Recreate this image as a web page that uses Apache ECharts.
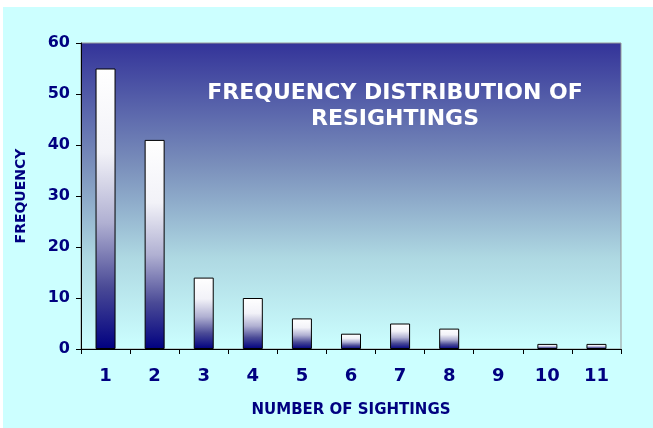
<!DOCTYPE html>
<html><head><meta charset="utf-8">
<script src="https://cdn.jsdelivr.net/npm/echarts@6/dist/echarts.min.js"></script>
<style>html,body{margin:0;padding:0;background:#fff;}#c{width:653px;height:428px;}</style>
</head><body><div id="c"></div>
<script>
var categories = ['1','2','3','4','5','6','7','8','9','10','11'];
var frequency = [55, 41, 14, 10, 6, 3, 5, 4, 0, 1, 1];
var yTicks = [0, 10, 20, 30, 40, 50, 60];
var titleLines = ['FREQUENCY DISTRIBUTION OF', 'RESIGHTINGS'];

var navy = '#000080';
var font = 'DejaVu Sans';
var barData = frequency.map(function (v) {
  return v === 0 ? {value: v, itemStyle: {borderWidth: 0, opacity: 0}} : v;
});
var chart = echarts.init(document.getElementById('c'), null, {renderer: 'canvas'});
chart.setOption({
  backgroundColor: '#ffffff',
  animation: false,
  graphic: [{
    type: 'rect', z: -10, silent: true,
    shape: {x: 3, y: 7, width: 650, height: 421},
    style: {fill: '#CCFFFF'}
  }],
  title: {
    text: titleLines.join('\n'),
    left: 390, top: 75, textAlign: 'center',
    textStyle: {color: '#ffffff', fontFamily: font, fontWeight: 'bold', fontSize: 22, lineHeight: 26}
  },
  grid: {
    left: 81, top: 43, right: 32, bottom: 79,
    show: true, borderColor: '#999999', borderWidth: 1,
    backgroundColor: new echarts.graphic.LinearGradient(0, 0, 0, 1, [
      {offset: 0, color: '#333399'},
      {offset: 0.4, color: '#7a8fbb'},
      {offset: 0.7, color: '#aed8e2'},
      {offset: 1, color: '#CCFFFF'}
    ])
  },
  xAxis: {
    type: 'category', data: categories,
    name: 'NUMBER OF SIGHTINGS', nameLocation: 'middle', nameGap: 54,
    nameTextStyle: {color: navy, fontFamily: font, fontWeight: 'bold', fontSize: 15},
    axisLine: {lineStyle: {color: '#000000', width: 1}},
    axisTick: {show: true, length: 5, lineStyle: {color: '#000000'}},
    axisLabel: {color: navy, fontFamily: font, fontWeight: 'bold', fontSize: 18, margin: 18}
  },
  yAxis: {
    type: 'value', min: yTicks[0], max: yTicks[yTicks.length - 1], interval: 10,
    name: 'FREQUENCY', nameLocation: 'middle', nameGap: 53, nameRotate: 90,
    nameTextStyle: {color: navy, fontFamily: font, fontWeight: 'bold', fontSize: 14},
    axisLine: {show: true, lineStyle: {color: '#000000', width: 1}},
    axisTick: {show: true, length: 5, lineStyle: {color: '#000000'}},
    splitLine: {show: false},
    axisLabel: {color: navy, fontFamily: font, fontWeight: 'bold', fontSize: 16, margin: 11}
  },
  series: [{
    type: 'bar', data: barData, barWidth: 20,
    itemStyle: {
      borderColor: '#000000', borderWidth: 1,
      color: new echarts.graphic.LinearGradient(0, 0, 0, 1, [
        {offset: 0, color: '#ffffff'},
        {offset: 0.3, color: '#f2f2f8'},
        {offset: 0.55, color: '#b0b0d2'},
        {offset: 0.78, color: '#4a4a96'},
        {offset: 1, color: '#000080'}
      ])
    }
  }]
});
</script></body></html>
